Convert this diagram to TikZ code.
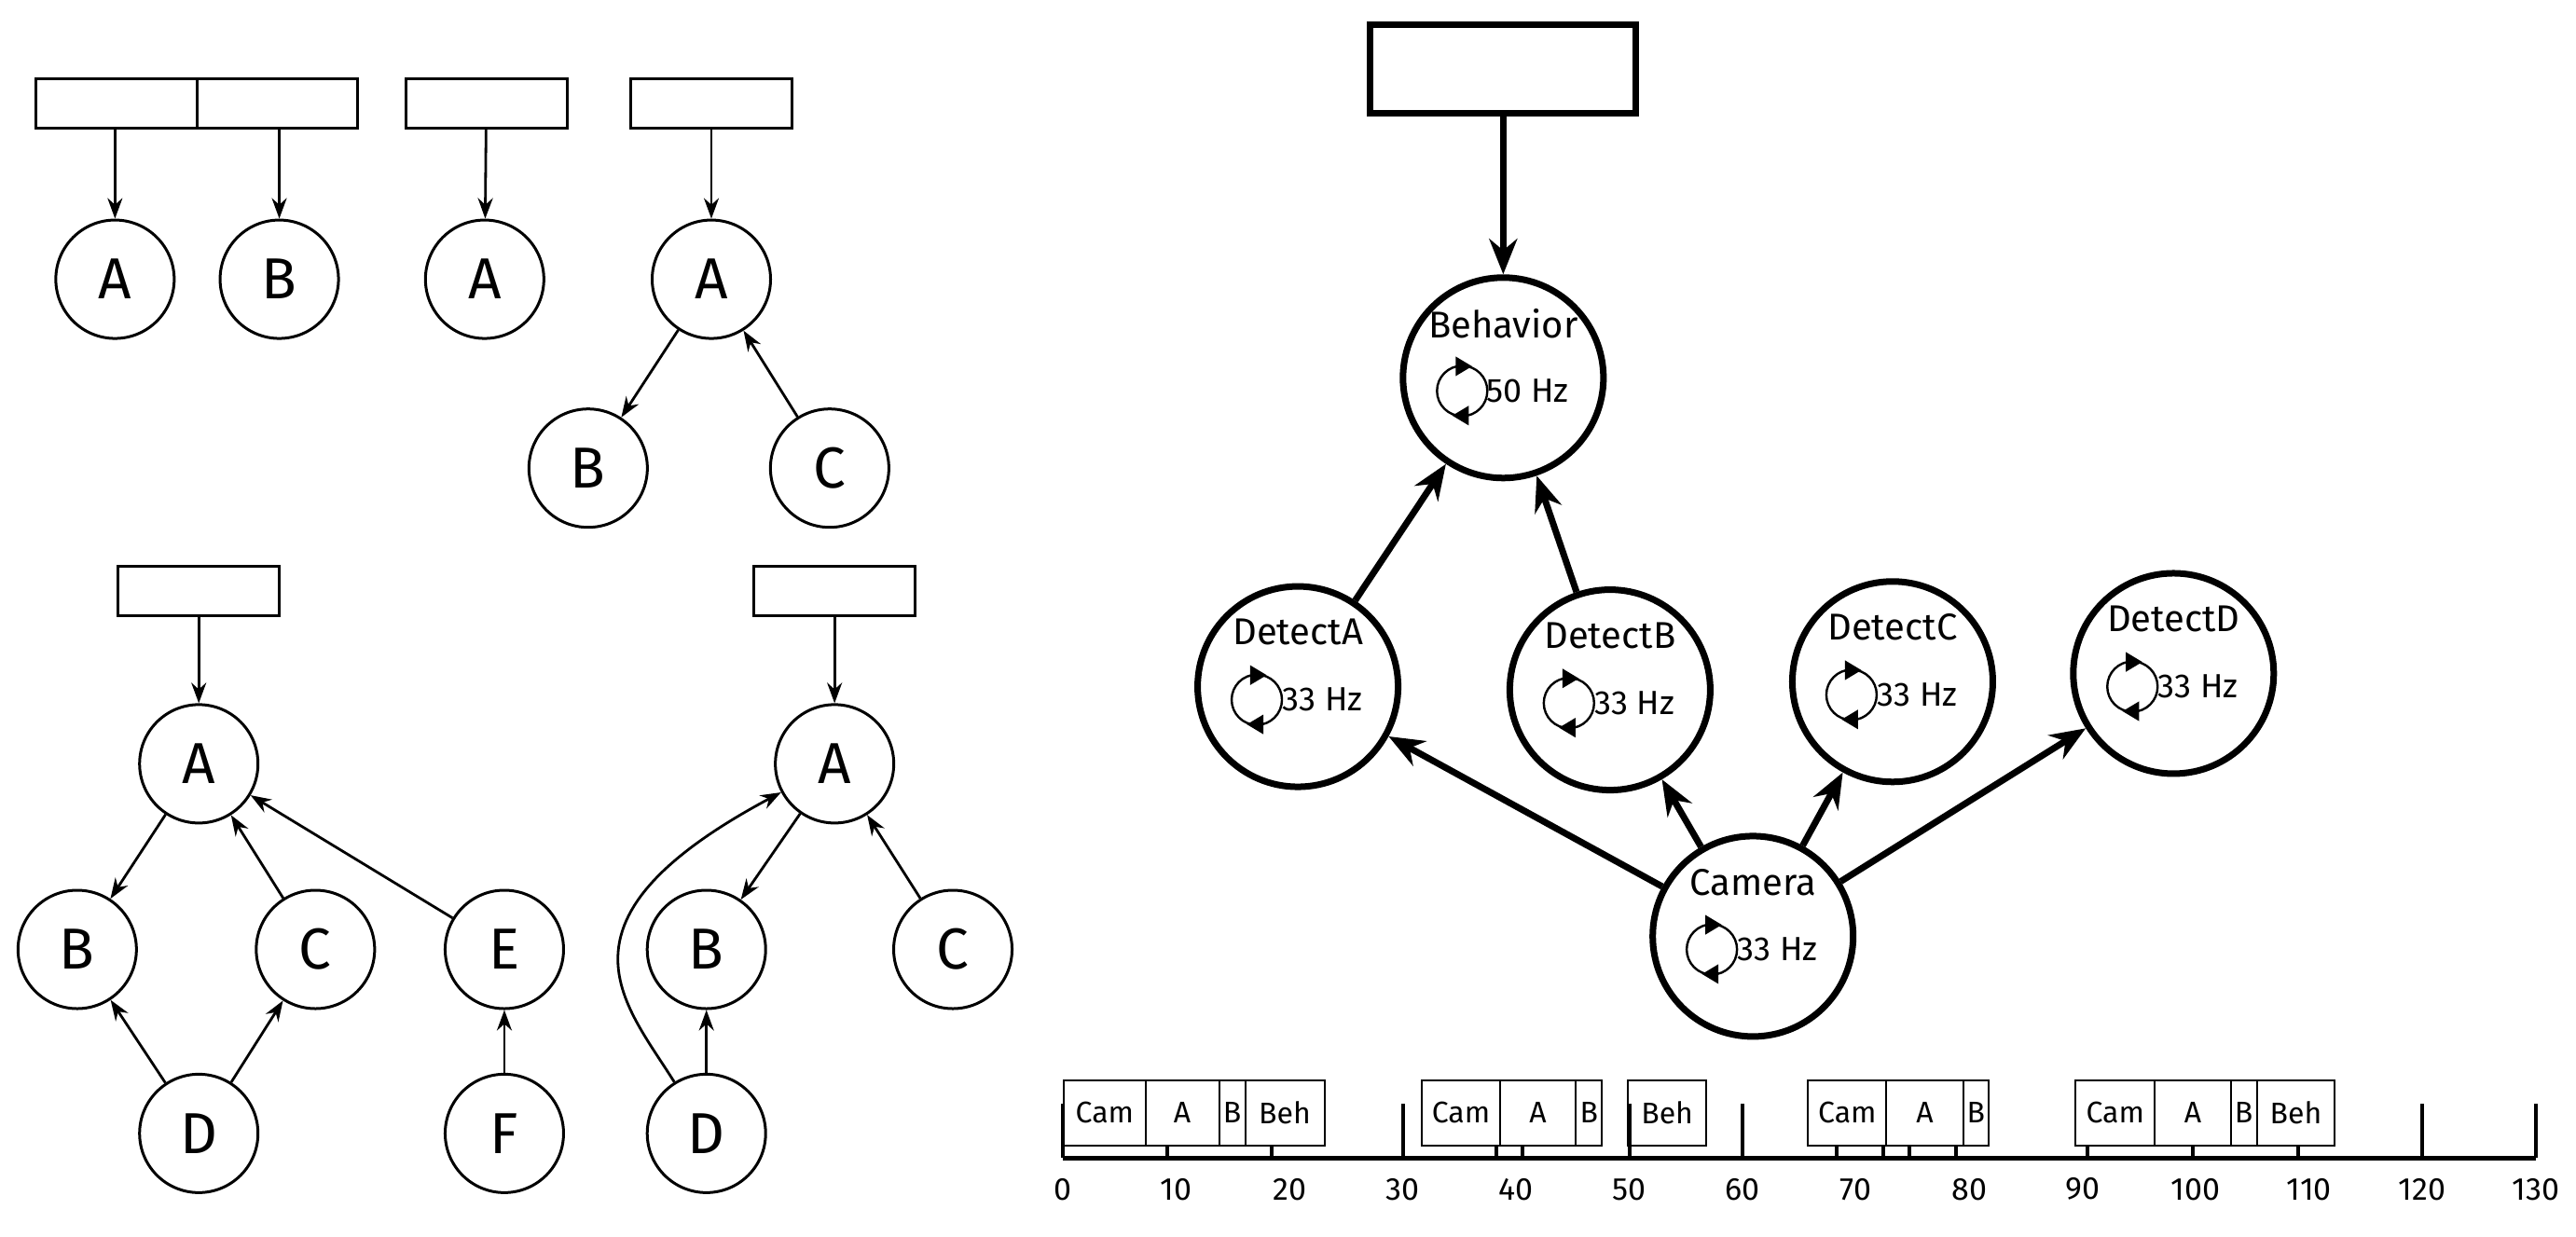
\documentclass[tikz,border=0pt]{standalone}
\usepackage{fontspec}
\setmainfont{Fira Sans}
\usetikzlibrary{arrows.meta,positioning,calc}

\tikzset{
  small/.style={circle,draw,line width=3pt,minimum size=127pt,inner sep=0pt,font=\fontsize{62}{62}\selectfont},
  big/.style={circle,draw,line width=7pt,minimum size=215pt,inner sep=0pt},
  root/.style={draw,line width=3pt,minimum width=173pt,minimum height=53pt,inner sep=0pt},
  arr/.style={-{Stealth[length=22pt,width=16pt]},line width=2.8pt},
  barr/.style={-{Stealth[length=38pt,width=30pt]},line width=7pt},
  slot/.style={draw,line width=2pt,minimum height=70pt,inner sep=0pt,anchor=north west,font=\fontsize{32}{32}\selectfont},
  tick/.style={line width=4pt}
}
\newcommand{\rateicon}[1]{%
  \draw[line width=2.4pt] (#1) circle (27pt);
  \fill ($(#1)+(6,-15)$) -- ++(-10,-6) -- ++(0,12) -- cycle;
  \fill ($(#1)+(-6,15)$) -- ++(10,6) -- ++(0,-12) -- cycle;}

\begin{document}
\begin{tikzpicture}[x=1.762pt,y=-1.762pt]
\useasboundingbox (0,0) rectangle (1568,753);

% top left trees
\node[root,minimum width=345pt] (r1) at (120,63) {};
\draw[line width=3pt] (120,48) -- (120,78);
\node[small] (a1) at (70,170) {A};
\node[small] (b1) at (170,170) {B};
\draw[arr] (70,78) -- (a1);
\draw[arr] (170,78) -- (b1);

\node[root] (r2) at (296,63) {};
\node[small] (a2) at (295,170) {A};
\draw[arr] (r2) -- (a2);

\node[root] (r3) at (433,63) {};
\node[small] (a3) at (433,170) {A};
\node[small] (b3) at (358,285) {B};
\node[small] (c3) at (505,285) {C};
\draw[arr] (r3) -- (a3);
\draw[arr] (a3) -- (b3);
\draw[arr] (c3) -- (a3);

% bottom left trees
\node[root] (r4) at (121,360) {};
\node[small] (a4) at (121,465) {A};
\node[small] (b4) at (47,578) {B};
\node[small] (c4) at (192,578) {C};
\node[small] (e4) at (307,578) {E};
\node[small] (d4) at (121,690) {D};
\node[small] (f4) at (307,690) {F};
\draw[arr] (r4) -- (a4);
\draw[arr] (a4) -- (b4);
\draw[arr] (c4) -- (a4);
\draw[arr] (e4) -- (a4);
\draw[arr] (d4) -- (b4);
\draw[arr] (d4) -- (c4);
\draw[arr] (f4) -- (e4);

\node[root] (r5) at (508,360) {};
\node[small] (a5) at (508,465) {A};
\node[small] (b5) at (430,578) {B};
\node[small] (c5) at (580,578) {C};
\node[small] (d5) at (430,690) {D};
\draw[arr] (r5) -- (a5);
\draw[arr] (a5) -- (b5);
\draw[arr] (c5) -- (a5);
\draw[arr] (d5) -- (b5);
\draw[arr] (d5) .. controls (380,610) and (330,560) .. (a5);

% rate graph
\node[draw,line width=7pt,minimum width=285pt,minimum height=95pt] (rt) at (915,42) {};
\foreach \n/\t/\r/\x/\y in {beh/Behavior/50/915/230, da/DetectA/33/790/418, db/DetectB/33/980/420,
    dc/DetectC/33/1152/415, dd/DetectD/33/1323/410, cam/Camera/33/1067/570} {
  \node[big] (\n) at (\x,\y) {};
  \node[font=\fontsize{40}{40}\selectfont] at ($(\n)+(0,-33)$) {\t};
  \node[font=\fontsize{36}{36}\selectfont] at ($(\n)+(15,8)$) {\r\ Hz};
  \rateicon{$(\n)+(-25,8)$}
}
\draw[barr] (rt) -- (beh);
\draw[barr] (da) -- (beh);
\draw[barr] (db) -- (beh);
\draw[barr] (cam) -- (da);
\draw[barr] (cam) -- (db);
\draw[barr] (cam) -- (dc);
\draw[barr] (cam) -- (dd);

% timeline
\begin{scope}[shift={(647,0)},x=12.15pt]
  \draw[line width=5pt] (0,705) -- (130,705);
  \foreach \t in {0,10,...,130}
    \node[font=\fontsize{34}{34}\selectfont] at (\t,724) {\t};
  \foreach \t in {0,30,50,60,120,130}
    \draw[tick] (\t,672) -- (\t,705);
  \foreach \t in {9.2,18.4,38.3,40.6,68.3,72.4,74.7,78.8,90.4,99.7,109}
    \draw[tick] (\t,697) -- (\t,705);
  \foreach \a/\b/\s in {0/7.2/Cam,7.2/13.7/A,13.7/16/B,16/23/Beh,
      31.6/38.5/Cam,38.5/45.2/A,45.2/47.5/B,49.8/56.7/Beh,
      65.7/72.6/Cam,72.6/79.4/A,79.4/81.6/B,
      89.3/96.3/Cam,96.3/103/A,103/105.3/B,105.3/112.2/Beh}
    \node[slot,minimum width={(\b-\a)*12.15pt}] (s\a) at (\a,657) {\s};
\end{scope}
\end{tikzpicture}
\end{document}
